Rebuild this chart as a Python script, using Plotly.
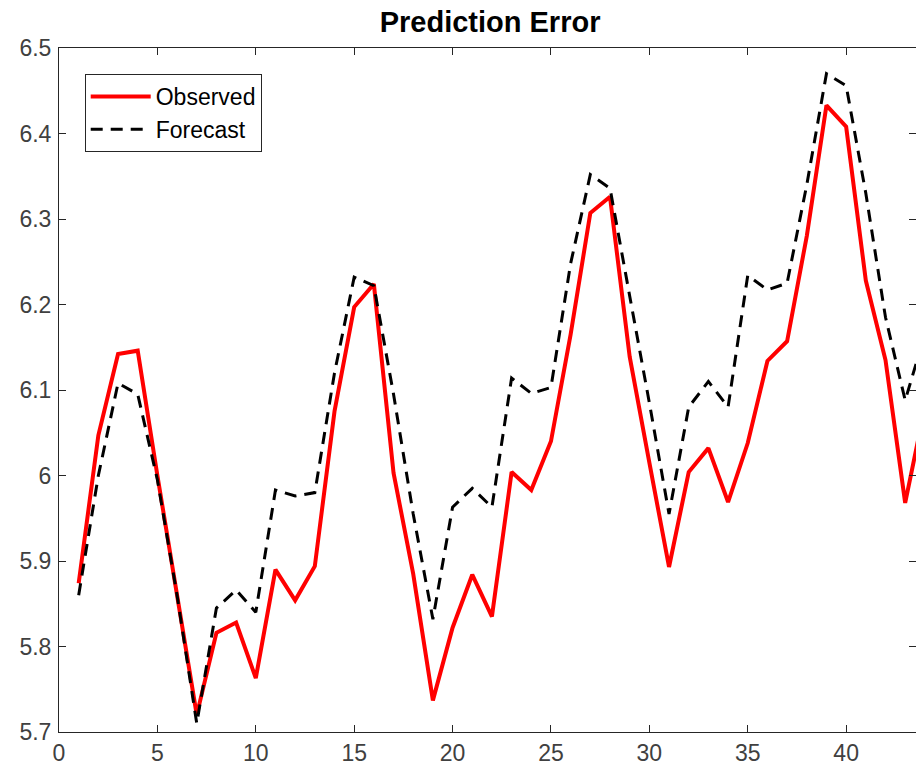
import plotly.graph_objects as go

# sample index
steps = list(range(1, 45))

observed = [5.874, 6.047, 6.142, 6.146, 6.000, 5.862, 5.720, 5.816, 5.828, 5.763,
            5.890, 5.854, 5.894, 6.075, 6.197, 6.224, 6.003, 5.885, 5.737, 5.822,
            5.884, 5.835, 6.004, 5.983, 6.040, 6.165, 6.307, 6.326, 6.139, 6.015,
            5.893, 6.004, 6.032, 5.969, 6.038, 6.134, 6.157, 6.280, 6.433, 6.408,
            6.228, 6.135, 5.968, 6.080]

forecast = [5.860, 6.000, 6.108, 6.095, 5.995, 5.860, 5.710, 5.845, 5.866, 5.840,
            5.983, 5.976, 5.980, 6.120, 6.232, 6.222, 6.095, 5.955, 5.832, 5.963,
            5.985, 5.963, 6.114, 6.096, 6.103, 6.248, 6.352, 6.336, 6.210, 6.085,
            5.955, 6.080, 6.110, 6.080, 6.234, 6.217, 6.225, 6.340, 6.470, 6.456,
            6.330, 6.185, 6.088, 6.165]

x_ticks = [0, 5, 10, 15, 20, 25, 30, 35, 40]
y_ticks = [5.7, 5.8, 5.9, 6.0, 6.1, 6.2, 6.3, 6.4, 6.5]
y_labels = ["5.7", "5.8", "5.9", "6", "6.1", "6.2", "6.3", "6.4", "6.5"]

font = "Arial, Liberation Sans, sans-serif"
axcol = "#262626"

fig = go.Figure()
fig.add_trace(go.Scatter(x=steps, y=observed, mode="lines", name="Observed",
                         line=dict(color="#ff0000", width=4)))
fig.add_trace(go.Scatter(x=steps, y=forecast, mode="lines", name="Forecast",
                         line=dict(color="#000000", width=3, dash="12px,8px")))

axis_common = dict(showline=True, linecolor=axcol, linewidth=1, mirror="ticks",
                   ticks="inside", ticklen=7, tickcolor=axcol, tickwidth=1,
                   showgrid=False, zeroline=False,
                   tickfont=dict(family=font, size=23, color="#404040"))

fig.update_layout(
    width=916, height=776,
    paper_bgcolor="white", plot_bgcolor="white",
    margin=dict(l=59, r=0, t=48, b=44),
    title=dict(text="<b>Prediction Error</b>", x=0.535, xanchor="center",
               y=0.9716, yanchor="middle",
               font=dict(family=font, size=29, color="#000000")),
    xaxis=dict(range=[0, 43.55], tickvals=x_ticks, **axis_common),
    yaxis=dict(range=[5.7, 6.5], tickvals=y_ticks, ticktext=y_labels,
               ticklabelstandoff=2, **axis_common),
    legend=dict(x=0.030, y=0.962, xanchor="left", yanchor="top",
                bgcolor="white", bordercolor=axcol, borderwidth=1,
                font=dict(family=font, size=23, color="#000000"),
                tracegroupgap=0, itemwidth=60),
    showlegend=True,
)

# drop the page's default body margin so the figure fills the window
fig.write_html("out.html", config={"displayModeBar": False},
               post_script="document.body.style.margin='0';"
                           "document.body.style.overflow='hidden';")
